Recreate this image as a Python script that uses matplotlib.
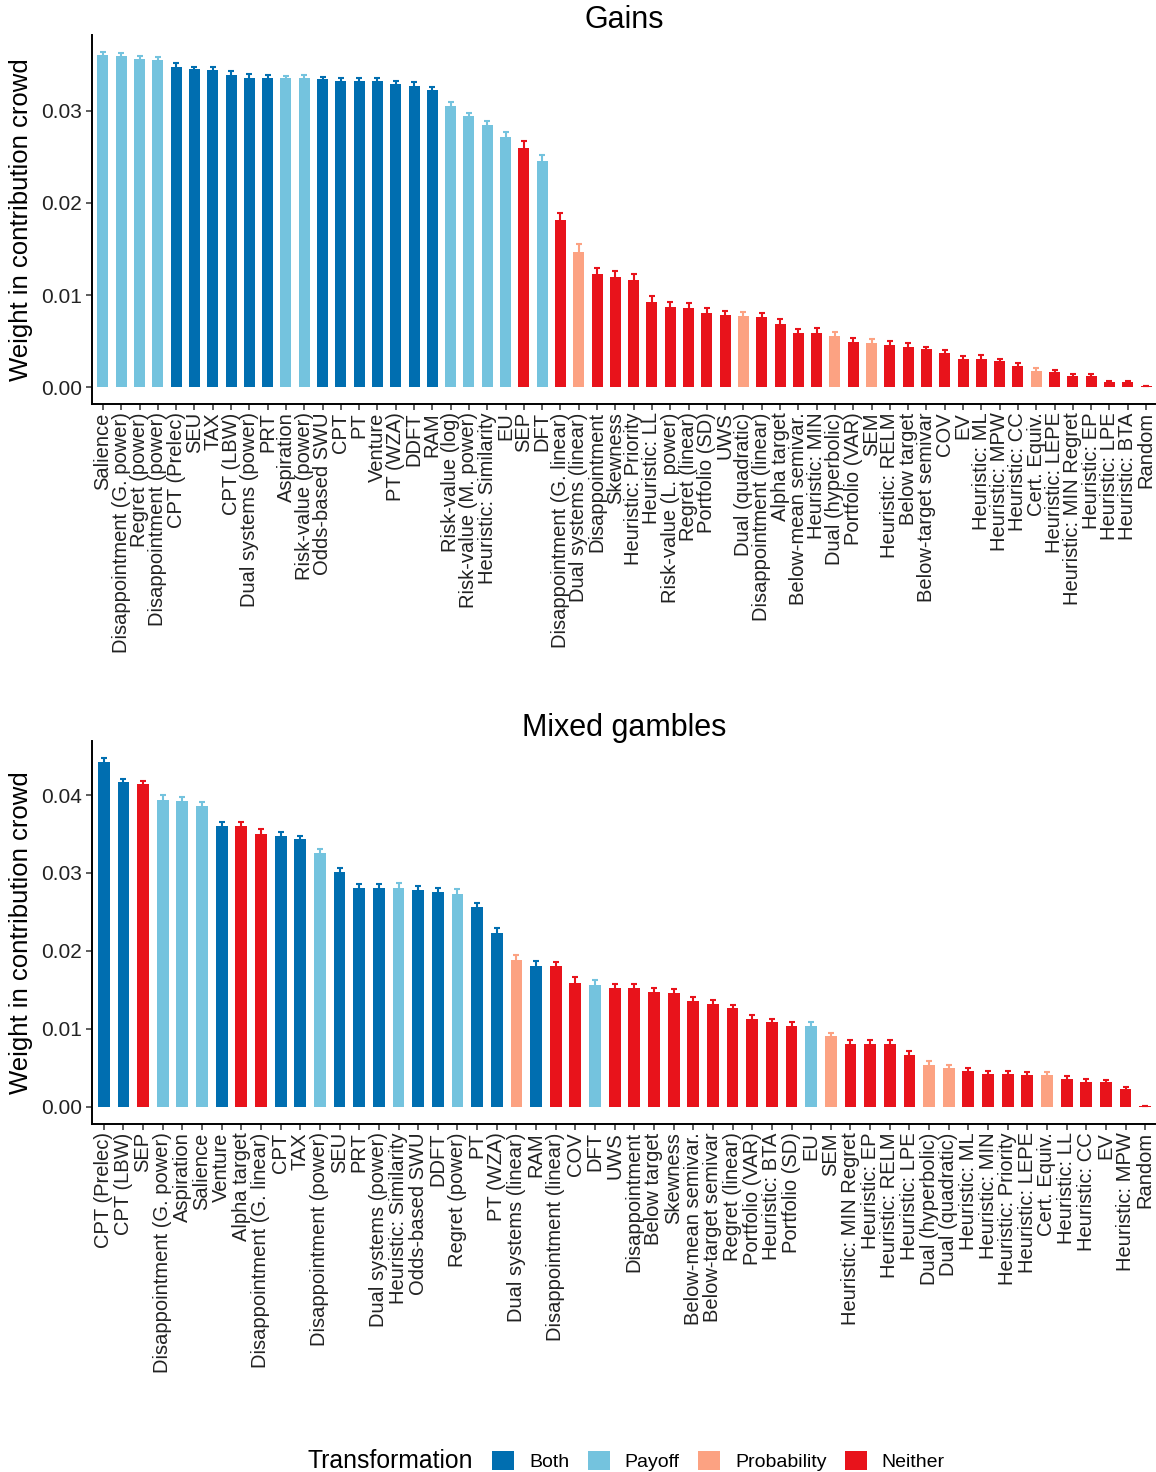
import numpy as np
import matplotlib
matplotlib.use("Agg")
import matplotlib.pyplot as plt
from matplotlib.patches import Patch

plt.rcParams['font.family'] = ['Liberation Sans', 'DejaVu Sans']

# ---- Gains ----
gains_models = [
    "Salience", "Disappointment (G. power)", "Regret (power)", "Disappointment (power)",
    "CPT (Prelec)", "SEU", "TAX", "CPT (LBW)", "Dual systems (power)", "PRT",
    "Aspiration", "Risk-value (power)", "Odds-based SWU", "CPT", "PT", "Venture",
    "PT (WZA)", "DDFT", "RAM", "Risk-value (log)", "Risk-value (M. power)",
    "Heuristic: Similarity", "EU", "SEP", "DFT", "Disappointment (G. linear)",
    "Dual systems (linear)", "Disappointment", "Skewness", "Heuristic: Priority",
    "Heuristic: LL", "Risk-value (L. power)", "Regret (linear)", "Portfolio (SD)",
    "UWS", "Dual (quadratic)", "Disappointment (linear)", "Alpha target",
    "Below-mean semivar.", "Heuristic: MIN", "Dual (hyperbolic)", "Portfolio (VAR)",
    "SEM", "Heuristic: RELM", "Below target", "Below-target semivar", "COV", "EV",
    "Heuristic: ML", "Heuristic: MPW", "Heuristic: CC", "Cert. Equiv.",
    "Heuristic: LEPE", "Heuristic: MIN Regret", "Heuristic: EP", "Heuristic: LPE",
    "Heuristic: BTA", "Random",
]
gains_transform = (
    ["Payoff"] * 4 + ["Both"] * 6 + ["Payoff"] * 2 + ["Both"] * 7 + ["Payoff"] * 4
    + ["Neither", "Payoff", "Neither", "Probability"] + ["Neither"] * 8
    + ["Probability"] + ["Neither"] * 4 + ["Probability", "Neither", "Probability"]
    + ["Neither"] * 8 + ["Probability"] + ["Neither"] * 6
)
gains_weight = [
    0.0360, 0.0359, 0.0356, 0.0355, 0.0348, 0.0345, 0.0344, 0.0339, 0.0336, 0.0336,
    0.0335, 0.0335, 0.0334, 0.0332, 0.0332, 0.0332, 0.0329, 0.0327, 0.0322, 0.0305,
    0.0294, 0.0284, 0.0272, 0.0260, 0.0246, 0.0181, 0.0147, 0.0123, 0.0120, 0.0116,
    0.0092, 0.0087, 0.0086, 0.0081, 0.0078, 0.0077, 0.0076, 0.0069, 0.0059, 0.0059,
    0.0056, 0.0049, 0.0048, 0.0046, 0.0044, 0.0041, 0.0037, 0.0031, 0.0031, 0.0028,
    0.0023, 0.0018, 0.0017, 0.0012, 0.0012, 0.0006, 0.0006, 0.0001,
]
gains_se = [
    0.0004, 0.0004, 0.0003, 0.0003, 0.0004, 0.0003, 0.0004, 0.0004, 0.0004, 0.0003,
    0.0003, 0.0004, 0.0003, 0.0003, 0.0003, 0.0003, 0.0003, 0.0004, 0.0004, 0.0004,
    0.0004, 0.0005, 0.0005, 0.0007, 0.0006, 0.0008, 0.0008, 0.0006, 0.0006, 0.0007,
    0.0007, 0.0006, 0.0005, 0.0005, 0.0005, 0.0005, 0.0005, 0.0005, 0.0004, 0.0005,
    0.0004, 0.0004, 0.0004, 0.0004, 0.0004, 0.0003, 0.0003, 0.0003, 0.0004, 0.0003,
    0.0003, 0.0003, 0.0002, 0.0002, 0.0002, 0.0001, 0.0001, 0.0000,
]

# ---- Mixed gambles ----
mixed_models = [
    "CPT (Prelec)", "CPT (LBW)", "SEP", "Disappointment (G. power)", "Aspiration",
    "Salience", "Venture", "Alpha target", "Disappointment (G. linear)", "CPT", "TAX",
    "Disappointment (power)", "SEU", "PRT", "Dual systems (power)",
    "Heuristic: Similarity", "Odds-based SWU", "DDFT", "Regret (power)", "PT",
    "PT (WZA)", "Dual systems (linear)", "RAM", "Disappointment (linear)", "COV", "DFT",
    "UWS", "Disappointment", "Below target", "Skewness", "Below-mean semivar.",
    "Below-target semivar", "Regret (linear)", "Portfolio (VAR)", "Heuristic: BTA",
    "Portfolio (SD)", "EU", "SEM", "Heuristic: MIN Regret", "Heuristic: EP",
    "Heuristic: RELM", "Heuristic: LPE", "Dual (hyperbolic)", "Dual (quadratic)",
    "Heuristic: ML", "Heuristic: MIN", "Heuristic: Priority", "Heuristic: LEPE",
    "Cert. Equiv.", "Heuristic: LL", "Heuristic: CC", "EV", "Heuristic: MPW", "Random",
]
mixed_transform = (
    ["Both", "Both", "Neither"] + ["Payoff"] * 3 + ["Both", "Neither", "Neither",
    "Both", "Both", "Payoff", "Both", "Both", "Both", "Payoff", "Both", "Both",
    "Payoff", "Both", "Both", "Probability", "Both", "Neither", "Neither", "Payoff"]
    + ["Neither"] * 10 + ["Payoff", "Probability"] + ["Neither"] * 4
    + ["Probability"] * 2 + ["Neither"] * 4 + ["Probability"] + ["Neither"] * 5
)
mixed_weight = [
    0.0443, 0.0417, 0.0414, 0.0394, 0.0392, 0.0386, 0.0360, 0.0360, 0.0350, 0.0348,
    0.0343, 0.0325, 0.0301, 0.0281, 0.0281, 0.0281, 0.0278, 0.0276, 0.0273, 0.0256,
    0.0223, 0.0188, 0.0181, 0.0180, 0.0159, 0.0156, 0.0152, 0.0152, 0.0147, 0.0146,
    0.0136, 0.0132, 0.0126, 0.0112, 0.0108, 0.0104, 0.0103, 0.0090, 0.0080, 0.0080,
    0.0080, 0.0066, 0.0054, 0.0050, 0.0046, 0.0042, 0.0042, 0.0041, 0.0041, 0.0035,
    0.0032, 0.0031, 0.0022, 0.0001,
]
mixed_se = [
    0.0004, 0.0003, 0.0004, 0.0006, 0.0005, 0.0005, 0.0005, 0.0005, 0.0006, 0.0005,
    0.0005, 0.0006, 0.0005, 0.0005, 0.0005, 0.0006, 0.0005, 0.0005, 0.0006, 0.0006,
    0.0006, 0.0006, 0.0006, 0.0005, 0.0007, 0.0006, 0.0005, 0.0005, 0.0005, 0.0005,
    0.0005, 0.0005, 0.0005, 0.0005, 0.0005, 0.0005, 0.0005, 0.0005, 0.0005, 0.0005,
    0.0005, 0.0005, 0.0004, 0.0004, 0.0004, 0.0004, 0.0004, 0.0004, 0.0004, 0.0004,
    0.0004, 0.0003, 0.0003, 0.0000,
]

categories = ["Both", "Payoff", "Probability", "Neither"]
palette = {"Both": "#006eb0", "Payoff": "#74c3de", "Probability": "#fca282", "Neither": "#e8131b"}

W, H = 1156, 1472
fig = plt.figure(figsize=(W / 100, H / 100), dpi=100)


def px_axes(x0, y0, x1, y1):
    return fig.add_axes([x0 / W, 1 - y1 / H, (x1 - x0) / W, (y1 - y0) / H])


def draw_panel(ax, title, title_y, models, transform, weight, se):
    n = len(models)
    x = np.arange(n)
    w = np.array(weight)
    e = np.array(se)
    cols = [palette[t] for t in transform]
    ax.bar(x, w, width=0.6, color=cols, zorder=2)
    for xi, wi, ei, c in zip(x, w, e, cols):
        ax.errorbar(xi, wi, yerr=ei, color=c, capsize=2.2, elinewidth=1.5,
                    capthick=1.5, fmt="none", zorder=3)
    top = (w + e).max()
    ax.set_ylim(-0.05 * top, top * 1.05)
    ax.set_xlim(-0.6, n - 0.4)
    ax.set_xticks(x)
    ax.set_xticklabels(models, rotation=90, ha="center", va="top", fontsize=14.5)
    for spine in ("top", "right"):
        ax.spines[spine].set_visible(False)
    for spine in ("left", "bottom"):
        ax.spines[spine].set_linewidth(1.4)
        ax.spines[spine].set_color("black")
    ax.tick_params(axis="both", length=4, width=1.1, colors="#333333", labelcolor="#222222")
    ax.tick_params(axis="y", labelsize=15, pad=3)
    ax.tick_params(axis="x", pad=2)
    ax.set_ylabel("Weight in contribution crowd", fontsize=18.5, labelpad=6)
    pos = ax.get_position()
    fig.text(pos.x0 + pos.width / 2, 1 - title_y / H, title, fontsize=22,
             ha="center", va="center")


ax1 = px_axes(92, 35, 1157, 404)
draw_panel(ax1, "Gains", 20, gains_models, gains_transform, gains_weight, gains_se)
ax1.yaxis.set_major_locator(matplotlib.ticker.FixedLocator([0, 0.01, 0.02, 0.03]))
ax1.yaxis.set_major_formatter(matplotlib.ticker.FormatStrFormatter("%.2f"))

ax2 = px_axes(92, 741, 1157, 1124)
draw_panel(ax2, "Mixed gambles", 728, mixed_models, mixed_transform, mixed_weight, mixed_se)
ax2.yaxis.set_major_locator(matplotlib.ticker.FixedLocator([0, 0.01, 0.02, 0.03, 0.04]))
ax2.yaxis.set_major_formatter(matplotlib.ticker.FormatStrFormatter("%.2f"))

# Legend
fig.text(308 / W, 1 - 1461 / H, "Transformation", fontsize=17.8, ha="left", va="center")
handles = [Patch(facecolor=palette[c], edgecolor="none") for c in categories]
fig.legend(handles, categories, loc="center left", ncol=4, frameon=False,
           bbox_to_anchor=(492 / W, 1 - 1461 / H), fontsize=14,
           handlelength=1.15, handleheight=1.15, handletextpad=0.75,
           columnspacing=0.95, borderpad=0, borderaxespad=0)

fig.savefig("out.png", dpi=100)
